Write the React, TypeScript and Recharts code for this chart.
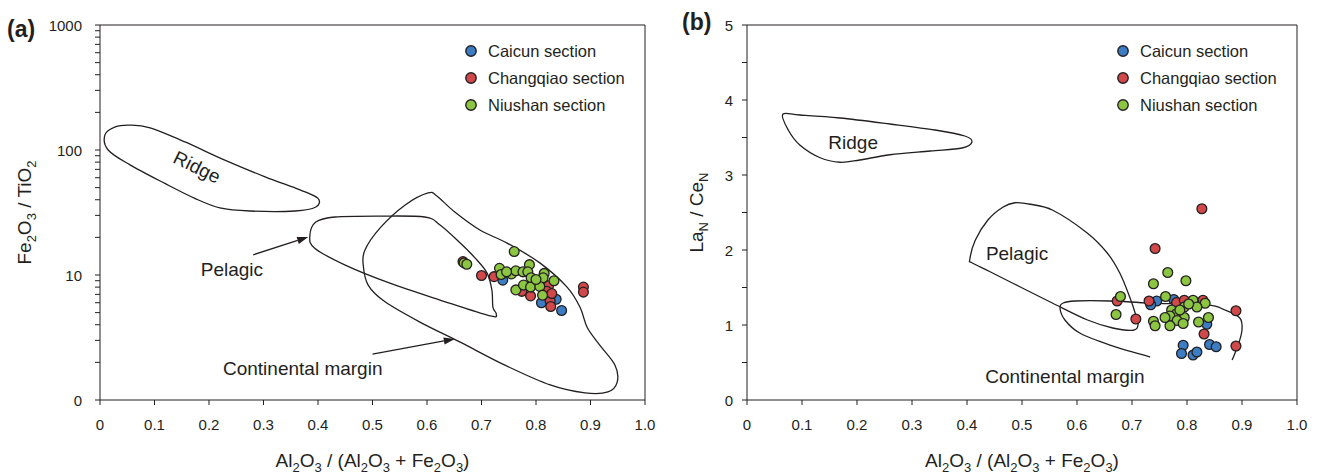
import React from 'react';
import { ScatterChart, Scatter, XAxis, YAxis, ReferenceLine, ReferenceDot } from 'recharts';

const INK = '#231f20';
const BLUE = '#3c7cc2';
const RED = '#d0484a';
const GREEN = '#8cc542';
const FONT = '"Liberation Sans", Arial, Helvetica, sans-serif';

// ---------- ticks ----------
const xTicks = [0, 0.1, 0.2, 0.3, 0.4, 0.5, 0.6, 0.7, 0.8, 0.9, 1.0];
const yTicksA = [1, 2, 3, 4, 5, 6, 7, 8, 9, 10, 20, 30, 40, 50, 60, 70, 80, 90, 100, 200, 300, 400, 500, 600, 700, 800, 900, 1000];
const yLabelsA = [1, 10, 100, 1000];
const yTicksB = [0, 0.5, 1, 1.5, 2, 2.5, 3, 3.5, 4, 4.5, 5];
const yLabelsB = [0, 1, 2, 3, 4, 5];

// ---------- panel (a): Fe2O3/TiO2 vs Al2O3/(Al2O3+Fe2O3) ----------
const caicunA = [
  { x: 0.739, y: 9.1 }, { x: 0.795, y: 8.7 }, { x: 0.81, y: 6.0 }, { x: 0.837, y: 6.4 },
  { x: 0.847, y: 5.2 }, { x: 0.822, y: 7.2 },
];
const changqiaoA = [
  { x: 0.666, y: 12.8 }, { x: 0.7, y: 9.9 }, { x: 0.723, y: 9.7 }, { x: 0.774, y: 7.4 },
  { x: 0.79, y: 6.8 }, { x: 0.823, y: 8.2 }, { x: 0.82, y: 7.4 }, { x: 0.826, y: 6.2 },
  { x: 0.827, y: 5.6 }, { x: 0.829, y: 7.1 }, { x: 0.887, y: 8.0 }, { x: 0.887, y: 7.3 },
];
const niushanA = [
  { x: 0.76, y: 15.4 }, { x: 0.668, y: 12.5 }, { x: 0.673, y: 12.2 }, { x: 0.733, y: 11.3 },
  { x: 0.736, y: 10.1 }, { x: 0.755, y: 10.2 }, { x: 0.763, y: 10.8 }, { x: 0.776, y: 10.6 },
  { x: 0.788, y: 12.1 }, { x: 0.785, y: 10.6 }, { x: 0.791, y: 9.5 }, { x: 0.815, y: 10.3 },
  { x: 0.813, y: 9.5 }, { x: 0.833, y: 9.0 }, { x: 0.763, y: 7.6 }, { x: 0.777, y: 8.3 },
  { x: 0.79, y: 8.0 }, { x: 0.807, y: 8.1 }, { x: 0.812, y: 6.9 }, { x: 0.746, y: 10.6 },
  { x: 0.8, y: 9.2 },
];
const ridgeA = [
  { x: 0.009, y: 132 }, { x: 0.028, y: 153 }, { x: 0.055, y: 158 }, { x: 0.092, y: 150 },
  { x: 0.156, y: 116 }, { x: 0.229, y: 83 }, { x: 0.303, y: 61 }, { x: 0.367, y: 48 },
  { x: 0.4, y: 41 }, { x: 0.396, y: 35 }, { x: 0.358, y: 32.5 }, { x: 0.275, y: 32.5 },
  { x: 0.22, y: 34.4 }, { x: 0.174, y: 41 }, { x: 0.119, y: 54 }, { x: 0.055, y: 76 },
  { x: 0.015, y: 100 },
];
const pelagicA = [
  { x: 0.385, y: 20.5 }, { x: 0.396, y: 26.5 }, { x: 0.431, y: 29.1 }, { x: 0.514, y: 29.6 },
  { x: 0.596, y: 29.1 }, { x: 0.624, y: 25.1 }, { x: 0.661, y: 18 }, { x: 0.688, y: 13.7 },
  { x: 0.71, y: 10.4 }, { x: 0.719, y: 7.6 }, { x: 0.721, y: 5.5 }, { x: 0.727, y: 4.9 },
  { x: 0.716, y: 4.7 }, { x: 0.624, y: 6.3 }, { x: 0.532, y: 8.6 }, { x: 0.45, y: 12 },
  { x: 0.394, y: 16.4 },
];
const continentalA = [
  { x: 0.602, y: 45.3 }, { x: 0.618, y: 42.9 }, { x: 0.651, y: 31.9 }, { x: 0.697, y: 22.9 },
  { x: 0.747, y: 18 }, { x: 0.807, y: 12.5 }, { x: 0.857, y: 8.0 }, { x: 0.881, y: 5.5 },
  { x: 0.894, y: 3.8 }, { x: 0.917, y: 2.75 }, { x: 0.945, y: 1.9 }, { x: 0.949, y: 1.39 },
  { x: 0.932, y: 1.16 }, { x: 0.89, y: 1.14 }, { x: 0.826, y: 1.32 }, { x: 0.743, y: 1.9 },
  { x: 0.661, y: 2.9 }, { x: 0.587, y: 4.2 }, { x: 0.523, y: 6.1 }, { x: 0.492, y: 8.3 },
  { x: 0.483, y: 12 }, { x: 0.486, y: 15.8 }, { x: 0.514, y: 23.8 }, { x: 0.56, y: 36.3 },
];
const labelsA = [
  { text: 'Ridge', x: 0.178, y: 73, angle: 26 },
  { text: 'Pelagic', x: 0.242, y: 11.0, angle: 0 },
  { text: 'Continental margin', x: 0.372, y: 1.8, angle: 0 },
];
const arrowsA = [
  [{ x: 0.281, y: 14.5 }, { x: 0.382, y: 20.1 }],
  [{ x: 0.5, y: 2.33 }, { x: 0.651, y: 3.08 }],
];

// ---------- panel (b): LaN/CeN vs Al2O3/(Al2O3+Fe2O3) ----------
const caicunB = [
  { x: 0.745, y: 1.32 }, { x: 0.734, y: 1.27 }, { x: 0.776, y: 1.34 }, { x: 0.836, y: 1.01 },
  { x: 0.793, y: 0.73 }, { x: 0.79, y: 0.62 }, { x: 0.811, y: 0.6 }, { x: 0.818, y: 0.64 },
  { x: 0.841, y: 0.74 }, { x: 0.853, y: 0.71 },
];
const changqiaoB = [
  { x: 0.827, y: 2.55 }, { x: 0.742, y: 2.02 }, { x: 0.673, y: 1.32 }, { x: 0.707, y: 1.08 },
  { x: 0.731, y: 1.32 }, { x: 0.781, y: 1.3 }, { x: 0.795, y: 1.33 }, { x: 0.829, y: 1.33 },
  { x: 0.831, y: 0.88 }, { x: 0.889, y: 1.19 }, { x: 0.889, y: 0.72 },
];
const niushanB = [
  { x: 0.765, y: 1.7 }, { x: 0.739, y: 1.55 }, { x: 0.798, y: 1.59 }, { x: 0.679, y: 1.38 },
  { x: 0.671, y: 1.14 }, { x: 0.761, y: 1.38 }, { x: 0.811, y: 1.33 }, { x: 0.833, y: 1.29 },
  { x: 0.818, y: 1.24 }, { x: 0.795, y: 1.24 }, { x: 0.772, y: 1.2 }, { x: 0.781, y: 1.15 },
  { x: 0.769, y: 1.12 }, { x: 0.795, y: 1.1 }, { x: 0.782, y: 1.06 }, { x: 0.793, y: 1.02 },
  { x: 0.769, y: 0.99 }, { x: 0.739, y: 1.05 }, { x: 0.742, y: 0.99 }, { x: 0.821, y: 1.04 },
  { x: 0.839, y: 1.1 }, { x: 0.76, y: 1.1 }, { x: 0.787, y: 1.2 }, { x: 0.803, y: 1.28 },
];
const ridgeB = [
  { x: 0.065, y: 3.81 }, { x: 0.096, y: 3.8 }, { x: 0.169, y: 3.76 }, { x: 0.26, y: 3.68 },
  { x: 0.342, y: 3.6 }, { x: 0.396, y: 3.52 }, { x: 0.409, y: 3.44 }, { x: 0.391, y: 3.36 },
  { x: 0.333, y: 3.32 }, { x: 0.26, y: 3.27 }, { x: 0.205, y: 3.2 }, { x: 0.169, y: 3.17 },
  { x: 0.133, y: 3.23 }, { x: 0.096, y: 3.4 }, { x: 0.075, y: 3.6 },
];
const pelagicB = [
  { x: 0.405, y: 1.87 }, { x: 0.415, y: 2.13 }, { x: 0.438, y: 2.4 }, { x: 0.465, y: 2.57 },
  { x: 0.487, y: 2.63 }, { x: 0.515, y: 2.61 }, { x: 0.556, y: 2.53 }, { x: 0.618, y: 2.23 },
  { x: 0.655, y: 1.96 }, { x: 0.678, y: 1.69 }, { x: 0.696, y: 1.37 }, { x: 0.707, y: 1.13 },
  { x: 0.711, y: 1.0 }, { x: 0.702, y: 0.93 }, { x: 0.665, y: 0.96 }, { x: 0.618, y: 1.07 },
  { x: 0.556, y: 1.29 }, { x: 0.496, y: 1.51 }, { x: 0.442, y: 1.71 }, { x: 0.409, y: 1.83 },
];
const continentalB = [
  { x: 0.733, y: 0.573 }, { x: 0.66, y: 0.733 }, { x: 0.605, y: 0.893 }, { x: 0.578, y: 1.067 },
  { x: 0.569, y: 1.227 }, { x: 0.575, y: 1.293 }, { x: 0.596, y: 1.32 }, { x: 0.66, y: 1.32 },
  { x: 0.733, y: 1.293 }, { x: 0.836, y: 1.267 }, { x: 0.869, y: 1.2 }, { x: 0.896, y: 1.093 },
  { x: 0.9, y: 0.933 }, { x: 0.893, y: 0.733 }, { x: 0.882, y: 0.533 },
];
const labelsB = [
  { text: 'Ridge', x: 0.193, y: 3.44, angle: 0 },
  { text: 'Pelagic', x: 0.491, y: 1.96, angle: 0 },
  { text: 'Continental margin', x: 0.578, y: 0.31, angle: 0 },
];

const legendItems = [
  { name: 'Caicun section', color: BLUE },
  { name: 'Changqiao section', color: RED },
  { name: 'Niushan section', color: GREEN },
];

// ---------- helpers ----------
function smoothCurve(closed: boolean) {
  return (context: any) => {
    let pts: number[][] = [];
    return {
      areaStart() {},
      areaEnd() {},
      lineStart() { pts = []; },
      point(x: number, y: number) { pts.push([+x, +y]); },
      lineEnd() {
        const n = pts.length;
        if (n === 0) return;
        const get = (i: number) => (closed ? pts[(i + n) % n] : pts[Math.max(0, Math.min(n - 1, i))]);
        context.moveTo(pts[0][0], pts[0][1]);
        const segs = closed ? n : n - 1;
        for (let i = 0; i < segs; i++) {
          const p0 = get(i - 1), p1 = get(i), p2 = get(i + 1), p3 = get(i + 2);
          context.bezierCurveTo(
            p1[0] + (p2[0] - p0[0]) / 6, p1[1] + (p2[1] - p0[1]) / 6,
            p2[0] - (p3[0] - p1[0]) / 6, p2[1] - (p3[1] - p1[1]) / 6,
            p2[0], p2[1],
          );
        }
        if (closed) context.closePath();
      },
    };
  };
}
const closedCurve = smoothCurve(true);
const openCurve = smoothCurve(false);

const noDot = () => <g />;
const dot = (color: string) => (p: any) => (
  <circle cx={p.cx} cy={p.cy} r={4.9} fill={color} stroke={INK} strokeWidth={1.3} />
);

const Arrow = (p: any) => {
  const { x1, y1, x2, y2 } = p;
  const a = Math.atan2(y2 - y1, x2 - x1);
  const L = 11, w = 3.6;
  const bx = x2 - L * Math.cos(a), by = y2 - L * Math.sin(a);
  const nx = -Math.sin(a) * w, ny = Math.cos(a) * w;
  return (
    <g>
      <line x1={x1} y1={y1} x2={bx} y2={by} stroke={INK} strokeWidth={1.3} />
      <polygon points={`${x2},${y2} ${bx + nx},${by + ny} ${bx - nx},${by - ny}`} fill={INK} />
    </g>
  );
};

const textLabel = (text: string, angle: number) => (p: any) => (
  <text
    x={p.cx}
    y={p.cy}
    textAnchor="middle"
    dominantBaseline="central"
    fontSize={19}
    fill={INK}
    fontFamily={FONT}
    transform={angle ? `rotate(${angle}, ${p.cx}, ${p.cy})` : undefined}
  >
    {text}
  </text>
);

function rich(parts: [string, boolean][], big: number, small: number, shift: number) {
  let down = false;
  return parts.map(([t, sub], i) => {
    let dy: number | undefined;
    if (sub && !down) { dy = shift; down = true; } else if (!sub && down) { dy = -shift; down = false; }
    return (
      <tspan key={i} dy={dy} fontSize={sub ? small : big}>{t}</tspan>
    );
  });
}

const xTitleParts: [string, boolean][] = [
  ['Al', false], ['2', true], ['O', false], ['3', true], [' / (Al', false], ['2', true], ['O', false], ['3', true],
  [' + Fe', false], ['2', true], ['O', false], ['3', true], [')', false],
];
const yTitlePartsA: [string, boolean][] = [
  ['Fe', false], ['2', true], ['O', false], ['3', true], [' / TiO', false], ['2', true],
];
const yTitlePartsB: [string, boolean][] = [
  ['La', false], ['N', true], [' / Ce', false], ['N', true],
];

const XTitle = (p: any) => {
  const vb = p.viewBox || {};
  const cx = vb.x + vb.width / 2;
  return (
    <text x={cx} y={467} textAnchor="middle" fill={INK} fontFamily={FONT} fontSize={19}>
      {rich(xTitleParts, 19, 13, 5)}
    </text>
  );
};
const YTitle = (parts: [string, boolean][], bx: number) => (p: any) => {
  const vb = p.viewBox || {};
  const cy = vb.y + vb.height / 2;
  return (
    <text
      x={bx}
      y={cy}
      textAnchor="middle"
      fill={INK}
      fontFamily={FONT}
      fontSize={19}
      transform={`rotate(-90, ${bx}, ${cy})`}
    >
      {rich(parts, 19, 13, 5)}
    </text>
  );
};

const fmtX = (v: number) => (v === 0 ? '0' : v.toFixed(1));
const fmtYA = (v: number) => (v === 1 ? '0' : String(v));
const fmtYB = (v: number) => String(v);

const XTick = (p: any) => (
  <text x={p.x} y={p.y} dy="0.71em" textAnchor="middle" fontSize={15} fill={INK} fontFamily={FONT}>
    {fmtX(p.payload.value)}
  </text>
);
const YTick = (labels: number[], fmt: (v: number) => string) => (p: any) =>
  labels.includes(p.payload.value) ? (
    <text x={p.x} y={p.y} dominantBaseline="central" textAnchor="end" fontSize={15} fill={INK} fontFamily={FONT}>
      {fmt(p.payload.value)}
    </text>
  ) : (
    <g />
  );

const axisLine = { stroke: INK, strokeWidth: 1 };
const lineStyle = { stroke: INK, strokeWidth: 1.3 };

function Legend({ left }: { left: number }) {
  const tops = [51, 78, 105];
  return (
    <>
      {legendItems.map((it, i) => (
        <g key={it.name}>
          <circle cx={left} cy={tops[i]} r={5.2} fill={it.color} stroke={INK} strokeWidth={1.4} />
          <text x={left + 17} y={tops[i]} dominantBaseline="central" fontSize={16.5} fill={INK} fontFamily={FONT}>
            {it.name}
          </text>
        </g>
      ))}
    </>
  );
}

export default function App() {
  return (
    <div style={{ position: 'absolute', left: 0, top: 0, width: 1318, height: 474, background: '#fff', fontFamily: FONT }}>
      <div style={{ position: 'absolute', left: 0, top: 0 }}>
        <ScatterChart width={660} height={474} margin={{ top: 25, right: 15, bottom: 0, left: 0 }}>
          <XAxis
            type="number"
            dataKey="x"
            domain={[0, 1]}
            ticks={xTicks}
            interval={0}
            tick={XTick}
            tickSize={5}
            tickMargin={14}
            axisLine={axisLine}
            tickLine={axisLine}
            height={74}
            allowDataOverflow
            label={{ content: XTitle }}
          />
          <YAxis
            type="number"
            dataKey="y"
            scale="log"
            domain={[1, 1000]}
            ticks={yTicksA}
            interval={0}
            tick={YTick(yLabelsA, fmtYA)}
            tickSize={5}
            tickMargin={13}
            axisLine={axisLine}
            tickLine={axisLine}
            width={100}
            allowDataOverflow
            label={{ content: YTitle(yTitlePartsA, 31) }}
          />
          <ReferenceLine y={1000} stroke={INK} strokeWidth={1} />
          <ReferenceLine x={1} stroke={INK} strokeWidth={1} />
          <Scatter data={ridgeA} shape={noDot} line={lineStyle} lineJointType={closedCurve} isAnimationActive={false} />
          <Scatter data={pelagicA} shape={noDot} line={lineStyle} lineJointType={closedCurve} isAnimationActive={false} />
          <Scatter data={continentalA} shape={noDot} line={lineStyle} lineJointType={closedCurve} isAnimationActive={false} />
          {arrowsA.map((seg, i) => (
            <ReferenceLine key={i} segment={seg} shape={Arrow} ifOverflow="visible" />
          ))}
          {labelsA.map((l) => (
            <ReferenceDot key={l.text} x={l.x} y={l.y} r={0} shape={textLabel(l.text, l.angle)} ifOverflow="visible" />
          ))}
          <Scatter data={caicunA} shape={dot(BLUE)} isAnimationActive={false} />
          <Scatter data={changqiaoA} shape={dot(RED)} isAnimationActive={false} />
          <Scatter data={niushanA} shape={dot(GREEN)} isAnimationActive={false} />
        </ScatterChart>
      </div>
      <div style={{ position: 'absolute', left: 660, top: 0 }}>
        <ScatterChart width={658} height={474} margin={{ top: 25, right: 21, bottom: 0, left: 0 }}>
          <XAxis
            type="number"
            dataKey="x"
            domain={[0, 1]}
            ticks={xTicks}
            interval={0}
            tick={XTick}
            tickSize={5}
            tickMargin={14}
            axisLine={axisLine}
            tickLine={axisLine}
            height={74}
            allowDataOverflow
            label={{ content: XTitle }}
          />
          <YAxis
            type="number"
            dataKey="y"
            domain={[0, 5]}
            ticks={yTicksB}
            interval={0}
            tick={YTick(yLabelsB, fmtYB)}
            tickSize={5}
            tickMargin={9}
            axisLine={axisLine}
            tickLine={axisLine}
            width={87}
            allowDataOverflow
            label={{ content: YTitle(yTitlePartsB, 43) }}
          />
          <ReferenceLine y={5} stroke={INK} strokeWidth={1} />
          <ReferenceLine x={1} stroke={INK} strokeWidth={1} />
          <Scatter data={ridgeB} shape={noDot} line={lineStyle} lineJointType={closedCurve} isAnimationActive={false} />
          <Scatter data={pelagicB} shape={noDot} line={lineStyle} lineJointType={closedCurve} isAnimationActive={false} />
          <Scatter data={continentalB} shape={noDot} line={lineStyle} lineJointType={openCurve} isAnimationActive={false} />
          {labelsB.map((l) => (
            <ReferenceDot key={l.text} x={l.x} y={l.y} r={0} shape={textLabel(l.text, l.angle)} ifOverflow="visible" />
          ))}
          <Scatter data={caicunB} shape={dot(BLUE)} isAnimationActive={false} />
          <Scatter data={changqiaoB} shape={dot(RED)} isAnimationActive={false} />
          <Scatter data={niushanB} shape={dot(GREEN)} isAnimationActive={false} />
        </ScatterChart>
      </div>
      <svg width={1318} height={474} style={{ position: 'absolute', left: 0, top: 0, pointerEvents: 'none' }}>
        <text x={7} y={37} fontSize={23} fontWeight="bold" fill={INK} fontFamily={FONT}>(a)</text>
        <text x={682} y={30} fontSize={23} fontWeight="bold" fill={INK} fontFamily={FONT}>(b)</text>
        <Legend left={471} />
        <Legend left={1123} />
      </svg>
    </div>
  );
}
